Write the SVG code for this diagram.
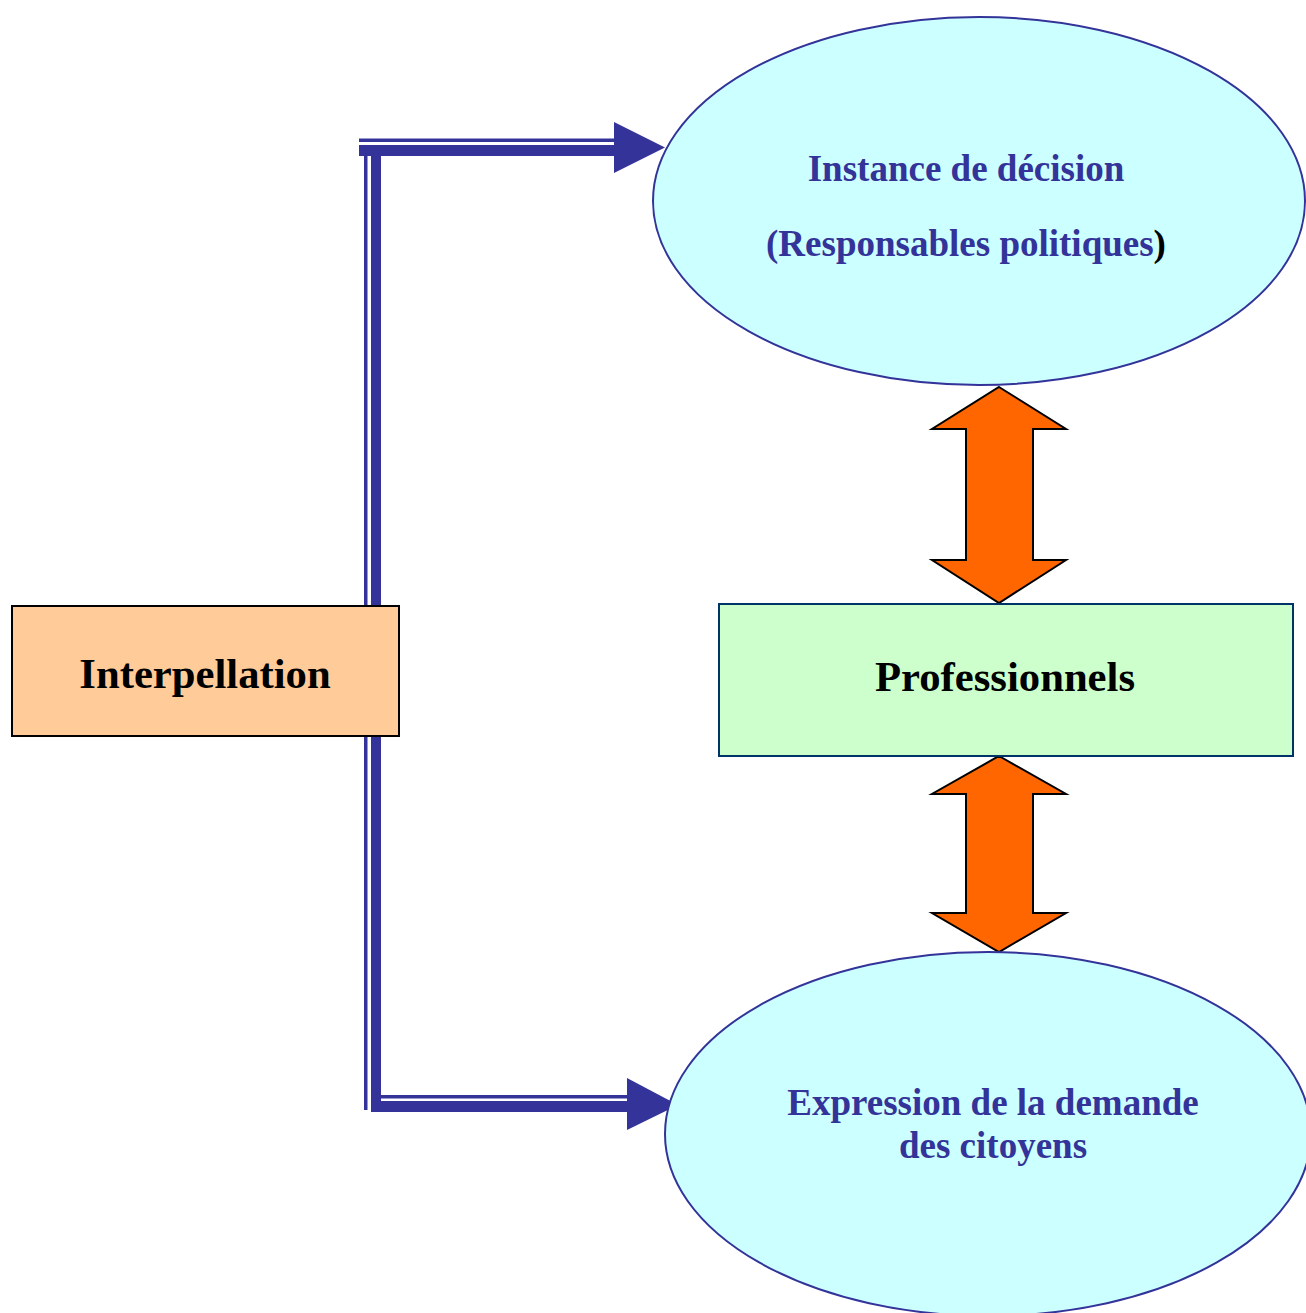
<svg xmlns="http://www.w3.org/2000/svg" width="1306" height="1313" viewBox="0 0 1306 1313">
<style>
.ell{fill:#CCFFFF;stroke:#333399;stroke-width:2}
.lbl{font-family:"Liberation Serif","Times New Roman",serif;font-weight:bold;text-anchor:middle}
.blue{fill:#333399;font-size:37px}
.big{fill:#000;font-size:42.7px}
.dbl{fill:#FF6600;stroke:#000;stroke-width:2;stroke-linejoin:miter}
.conn{fill:#333399}
</style>
<rect width="1306" height="1313" fill="#fff"/>
<g id="connectors">
<rect class="conn" x="359" y="138.5" width="256" height="3.5"/>
<rect class="conn" x="359" y="145" width="256" height="11"/>
<polygon class="conn" points="614,122 665,147.5 614,173"/>
<rect class="conn" x="364" y="156" width="3.5" height="954"/>
<rect class="conn" x="371" y="145" width="10" height="967"/>
<rect class="conn" x="371" y="1095" width="257" height="3.5"/>
<rect class="conn" x="371" y="1101" width="257" height="11"/>
<polygon class="conn" points="627,1078 678,1105 627,1130"/>
<polygon class="dbl" points="999,387 1066,429 1033,429 1033,560 1066,560 999,603 932,560 966,560 966,429 932,429"/>
<polygon class="dbl" points="999,756 1066,794 1033,794 1033,913 1066,913 999,952 932,913 966,913 966,794 932,794"/>
</g>
<g id="n-decision">
<ellipse class="ell" cx="979" cy="201" rx="326" ry="184"/>
<text class="lbl blue" x="966" y="181">Instance de décision</text>
<text class="lbl blue" x="966" y="256">(Responsables politiques<tspan fill="#000">)</tspan></text>
</g>
<g id="n-citoyens">
<ellipse class="ell" cx="988" cy="1134" rx="323" ry="182"/>
<text class="lbl blue" x="993" y="1115">Expression de la demande</text>
<text class="lbl blue" x="993" y="1158">des citoyens</text>
</g>
<g id="n-interpellation">
<rect x="12" y="606" width="387" height="130" fill="#FFCC99" stroke="#000" stroke-width="2"/>
<text class="lbl big" x="205" y="688">Interpellation</text>
</g>
<g id="n-professionnels">
<rect x="719" y="604" width="574" height="152" fill="#CCFFCC" stroke="#003366" stroke-width="2"/>
<text class="lbl big" x="1005" y="691">Professionnels</text>
</g>
</svg>
